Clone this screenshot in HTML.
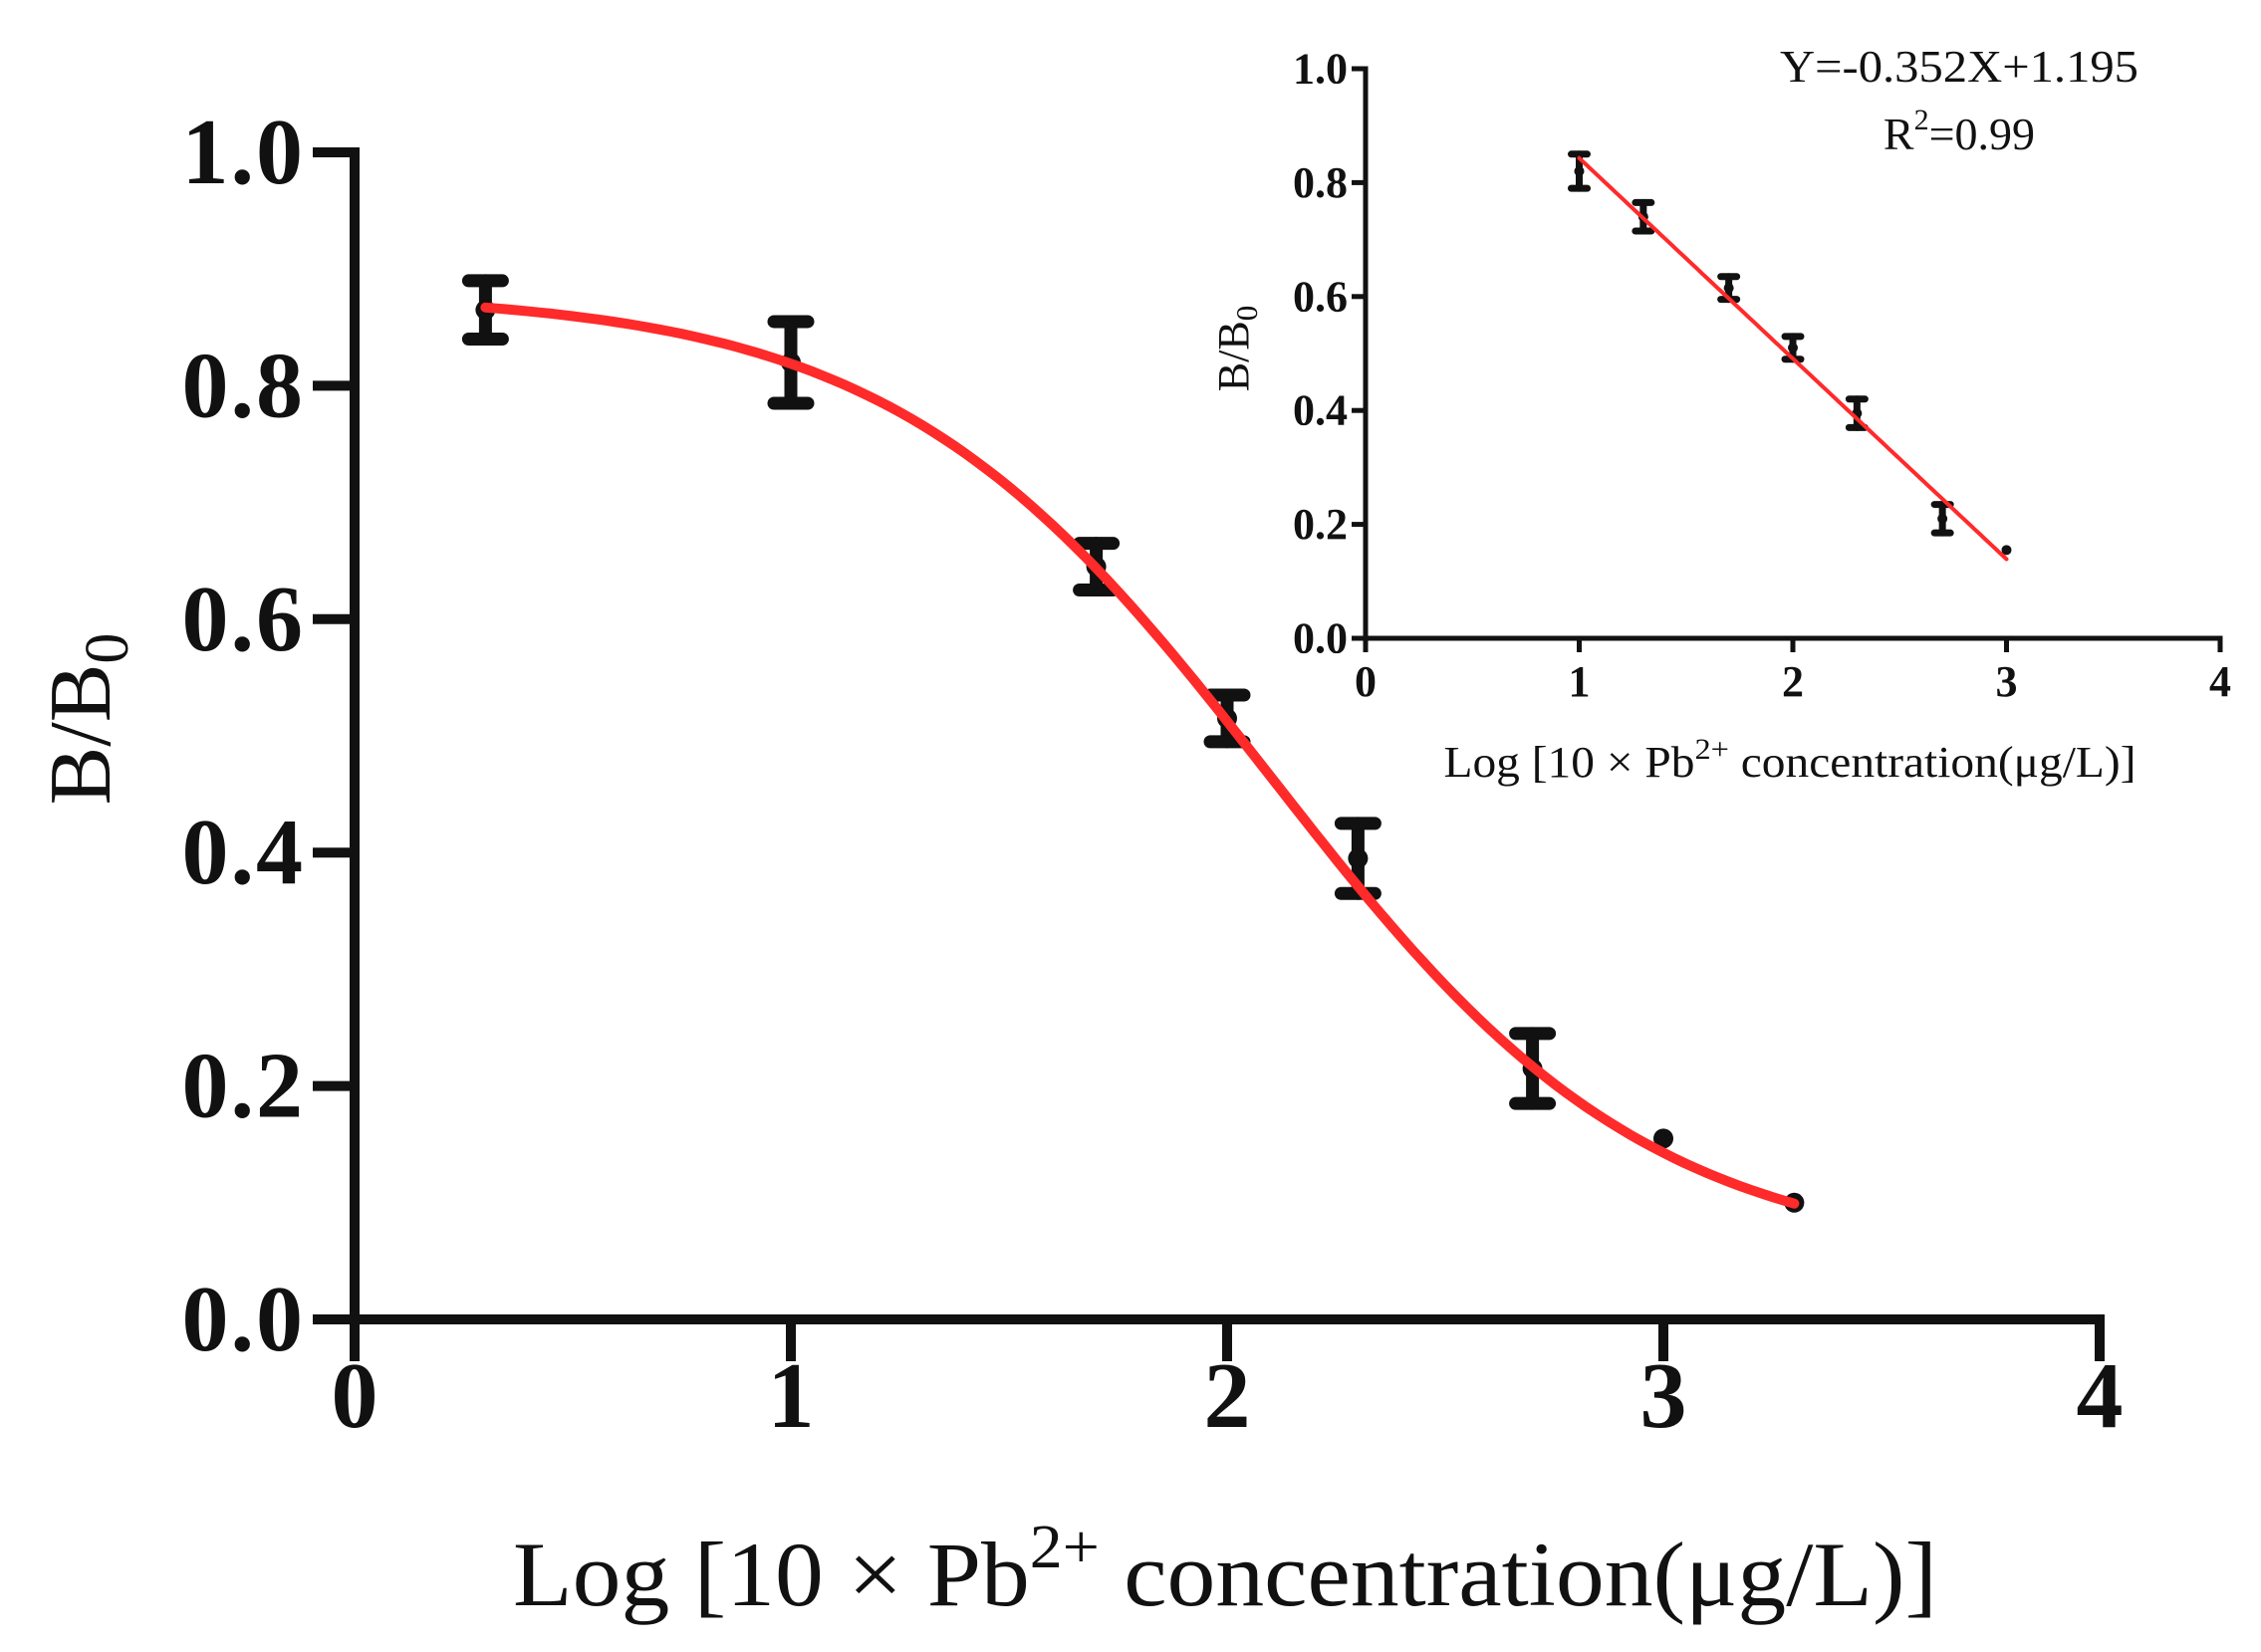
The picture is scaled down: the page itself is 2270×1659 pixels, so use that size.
<!DOCTYPE html>
<html><head><meta charset="utf-8"><style>
html,body{margin:0;padding:0;background:#fff;}
svg{display:block;font-family:"Liberation Serif","DejaVu Serif",serif;}
</style></head><body>
<svg id="chart" width="2270" height="1659" viewBox="0 0 2270 1659" xmlns="http://www.w3.org/2000/svg"></svg>
<script>
// Main chart data
const mainX = [0.3, 1, 1.7, 2, 2.3, 2.7, 3, 3.3];
const mainY = [0.865, 0.82, 0.645, 0.515, 0.395, 0.215, 0.155, 0.10];
const mainErr = [0.025, 0.035, 0.02, 0.02, 0.03, 0.03, 0, 0];
const fitTop = 0.88, fitBottom = 0.05, fitLogIC50 = 2.1, fitHill = 1.0;
const mainXTicks = [0, 1, 2, 3, 4];
const mainYTicks = ["0.0", "0.2", "0.4", "0.6", "0.8", "1.0"];
// Inset data
const insetX = [1, 1.3, 1.7, 2, 2.3, 2.7, 3];
const insetY = [0.82, 0.74, 0.615, 0.51, 0.395, 0.21, 0.155];
const insetErr = [0.03, 0.025, 0.02, 0.02, 0.025, 0.025, 0];
const lineSlope = -0.352, lineIntercept = 1.195;
const insetXTicks = [0, 1, 2, 3, 4];
const insetYTicks = ["0.0", "0.2", "0.4", "0.6", "0.8", "1.0"];

const NS = "http://www.w3.org/2000/svg";
const svg = document.getElementById('chart');
function mk(tag, attrs, parent, text) {
  const e = document.createElementNS(NS, tag);
  for (const k in attrs) e.setAttribute(k, attrs[k]);
  if (text !== undefined) e.textContent = text;
  (parent || svg).appendChild(e);
  return e;
}

function drawPanel(o) {
  const sx = v => o.x0 + (v - 0) / 4 * (o.x1 - o.x0);
  const sy = v => o.y0 - v * (o.y0 - o.y1);
  const g = mk('g', {});
  
  
  const ya = mk('line', {x1: sx(0), y1: sy(1) - o.aw/2, x2: sx(0), y2: sy(0) + o.tick, stroke: '#111', 'stroke-width': o.aw}, g);
  
  
  const xa = mk('line', {x1: sx(0) - o.tick, y1: sy(0), x2: sx(4) + o.aw/2, y2: sy(0), stroke: '#111', 'stroke-width': o.aw}, g);
  
  
  o.yTicks.forEach(t => {
    const v = parseFloat(t);
    mk('line', {x1: sx(0) - o.tick, y1: sy(v), x2: sx(0), y2: sy(v), stroke: '#111', 'stroke-width': o.aw}, g);
    const lb = mk('text', {x: sx(0) - o.tick - o.lgap, y: sy(v) + o.tfs * 0.33, 'text-anchor': 'end', 'font-size': o.tfs, 'font-weight': 'bold', fill: '#111', 'letter-spacing': o.ls}, g, t);
    
    
  });
  o.xTicks.forEach(v => {
    mk('line', {x1: sx(v), y1: sy(0), x2: sx(v), y2: sy(0) + o.tick, stroke: '#111', 'stroke-width': o.aw}, g);
    const lb = mk('text', {x: sx(v), y: sy(0) + o.xlOff, 'text-anchor': 'middle', 'font-size': o.tfs, 'font-weight': 'bold', fill: '#111'}, g, String(v));
    
    
  });
  o.xs.forEach((x, i) => {
    const cx = sx(x), e = o.err[i];
    if (e > 0) {
      const eb = mk('g', {stroke: '#111', 'stroke-linecap': 'round', 'stroke-width': o.ebw}, g);
      
      
      mk('line', {x1: cx, y1: sy(o.ys[i] + e), x2: cx, y2: sy(o.ys[i] - e)}, eb);
      mk('line', {x1: cx - o.cap, y1: sy(o.ys[i] + e), x2: cx + o.cap, y2: sy(o.ys[i] + e)}, eb);
      mk('line', {x1: cx - o.cap, y1: sy(o.ys[i] - e), x2: cx + o.cap, y2: sy(o.ys[i] - e)}, eb);
    }
    const pt = mk('circle', {cx: cx, cy: sy(o.ys[i]), r: o.pr, fill: '#111'}, g);
    
    
  });
  let d = '';
  const n = 120;
  for (let k = 0; k <= n; k++) {
    const x = o.fx0 + (o.fx1 - o.fx0) * k / n;
    d += (k ? 'L' : 'M') + sx(x).toFixed(1) + ',' + sy(o.f(x)).toFixed(1);
  }
  const fp = mk('path', {d: d, fill: 'none', stroke: '#ff2a2a', 'stroke-width': o.fw, 'stroke-linecap': 'round'}, g);
  
  
  return {sx, sy, g};
}

drawPanel({name: 'main-panel', x0: 356, x1: 2108, y0: 1325, y1: 153, aw: 10, tick: 42, lgap: 8, tfs: 94, ls: 2, xlOff: 108,
  xTicks: mainXTicks, yTicks: mainYTicks, xs: mainX, ys: mainY, err: mainErr, ebw: 13, cap: 17, pr: 10, fw: 10,
  fx0: mainX[0], fx1: mainX[mainX.length - 1],
  f: x => fitBottom + (fitTop - fitBottom) / (1 + Math.pow(10, (x - fitLogIC50) * fitHill))});

drawPanel({name: 'inset-panel', x0: 1371, x1: 2229, y0: 641, y1: 69, aw: 5, tick: 14, lgap: 4, tfs: 44, ls: 0, xlOff: 58,
  xTicks: insetXTicks, yTicks: insetYTicks, xs: insetX, ys: insetY, err: insetErr, ebw: 7, cap: 8, pr: 5, fw: 4,
  fx0: insetX[0], fx1: insetX[insetX.length - 1],
  f: x => lineSlope * x + lineIntercept});

let t;
t = mk('text', {transform: 'translate(110,722) rotate(-90)', 'text-anchor': 'middle', 'font-size': 88, fill: '#111'});


t.innerHTML = 'B/B<tspan font-size="62" dy="18">0</tspan>';

t = mk('text', {x: 1230, y: 1612, 'text-anchor': 'middle', 'font-size': 92, fill: '#111', textLength: 1430, lengthAdjust: 'spacingAndGlyphs'});


t.innerHTML = 'Log [10 ×  Pb<tspan font-size="62" dy="-38">2+</tspan><tspan dy="38"> concentration(μg/L)]</tspan>';

t = mk('text', {transform: 'translate(1253,350) rotate(-90)', 'text-anchor': 'middle', 'font-size': 44, fill: '#111'});


t.innerHTML = 'B/B<tspan font-size="31" dy="9">0</tspan>';

t = mk('text', {x: 1797, y: 780, 'text-anchor': 'middle', 'font-size': 44, fill: '#111', textLength: 695, lengthAdjust: 'spacingAndGlyphs'});


t.innerHTML = 'Log [10 ×  Pb<tspan font-size="30" dy="-18">2+</tspan><tspan dy="18"> concentration(μg/L)]</tspan>';

t = mk('text', {x: 1967, y: 82, 'text-anchor': 'middle', 'font-size': 46, fill: '#111', textLength: 360, lengthAdjust: 'spacingAndGlyphs'}, svg, 'Y=-0.352X+1.195');


t = mk('text', {x: 1967, y: 150, 'text-anchor': 'middle', 'font-size': 46, fill: '#111'});


t.innerHTML = 'R<tspan font-size="30" dy="-20">2</tspan><tspan dy="20">=0.99</tspan>';
</script>
</body></html>
